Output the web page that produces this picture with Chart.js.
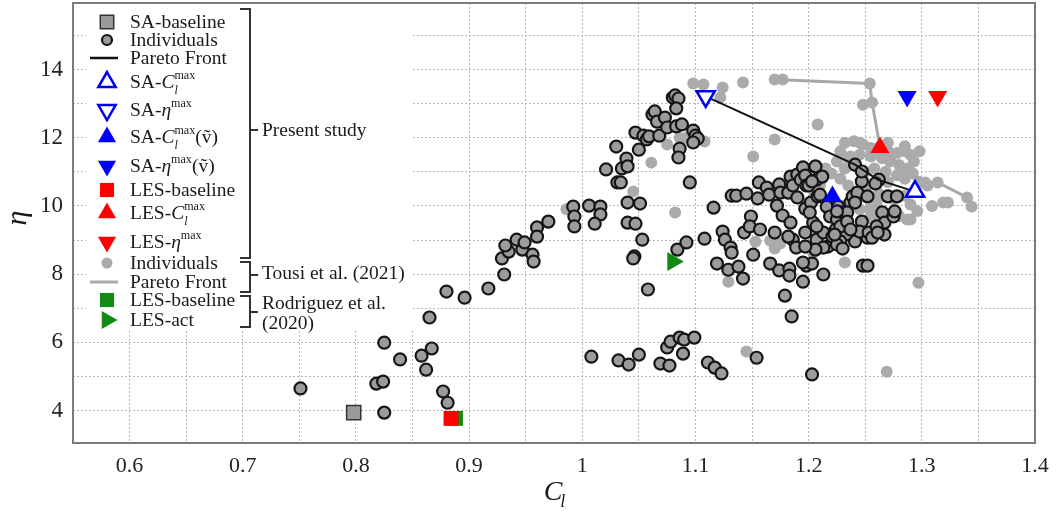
<!DOCTYPE html>
<html>
<head>
<meta charset="utf-8">
<script src="https://cdn.jsdelivr.net/npm/chart.js@4.4.0/dist/chart.umd.min.js"></script>
<style>body{margin:0;background:#fff}</style>
</head>
<body>
<canvas id="chart" width="1058" height="520"></canvas>
<script>
// present study, SA individuals [Cl, eta]
const saIndividuals = [
  [0.751,4.65],[0.825,3.94],[0.818,4.79],[0.824,4.85],[0.825,5.99],[0.839,5.50],[0.858,5.61],[0.867,5.82],
  [0.862,5.20],[0.865,6.73],[0.880,7.49],[0.896,7.31],[0.877,4.56],[0.881,4.23],[0.917,7.58],[0.931,7.99],
  [0.929,8.46],[0.935,8.66],[0.947,8.72],[0.956,8.57],[0.957,8.37],[1.008,5.58],
  [0.932,8.84],[0.942,9.01],[0.949,8.93],[0.960,9.37],[0.960,9.10],[0.970,9.54],
  [0.992,9.98],[0.993,9.69],[0.993,9.40],[1.006,10.01],[1.016,9.98],[1.016,9.75],[1.011,9.48],[1.021,11.07],
  [1.030,11.74],[1.031,10.69],[1.034,10.69],[1.035,11.10],[1.039,11.39],[1.040,11.16],[1.040,10.10],[1.040,9.51],
  [1.047,9.48],[1.047,12.15],[1.050,11.65],[1.051,10.07],[1.053,9.01],[1.046,8.52],[1.054,12.06],[1.057,11.95],
  [1.059,12.04],[1.062,12.68],[1.064,12.77],[1.066,12.47],[1.068,12.06],[1.073,12.59],[1.075,12.30],[1.080,13.18],
  [1.082,13.24],[1.085,13.15],[1.083,12.86],[1.083,12.33],[1.088,12.39],[1.086,11.68],[1.085,11.42],[1.098,12.21],
  [1.100,12.06],[1.102,11.98],[1.098,11.86],[1.095,10.69],[1.116,9.95],[1.084,8.72],[1.092,8.93],[1.108,9.04],
  [1.124,9.25],[1.126,9.01],[1.131,8.78],[1.132,10.30],[1.136,10.30],[1.145,10.36],[1.143,9.22],[1.149,9.69],
  [1.148,9.40],[1.151,8.57],[1.156,10.69],[1.157,9.31],[1.155,10.22],[1.163,10.54],[1.165,10.33],[1.170,9.22],
  [1.172,10.01],[1.174,10.63],[1.175,10.39],[1.177,9.72],[1.184,10.86],[1.182,10.39],[1.184,9.51],[1.186,10.60],
  [1.190,10.25],[1.190,10.92],[1.193,10.77],[1.195,11.13],[1.197,10.89],[1.198,10.60],[1.197,9.92],[1.200,10.60],
  [1.202,10.10],[1.204,9.51],[1.207,10.77],[1.212,10.86],[1.208,10.28],[1.197,9.22],[1.186,9.01],[1.189,8.78],
  [1.207,9.01],[1.213,9.22],[1.216,9.98],[1.219,9.69],[1.226,9.98],[1.225,9.60],[1.224,9.31],[1.230,9.81],
  [1.233,9.43],[1.237,10.10],[1.239,10.28],[1.241,8.96],[1.233,9.16],[1.241,11.21],[1.228,8.96],[1.217,8.81],
  [1.045,8.46],[1.058,7.55],[1.119,8.31],[1.129,8.13],[1.138,8.22],[1.142,7.87],[1.132,8.63],[1.166,8.31],
  [1.174,8.11],[1.179,7.37],[1.182,9.10],[1.183,8.16],[1.183,7.96],[1.185,6.76],[1.195,7.78],[1.198,8.25],
  [1.203,8.31],[1.213,7.99],[1.213,8.78],[1.221,9.10],[1.225,8.87],[1.230,8.75],[1.248,8.25],[1.252,8.25],
  [1.252,9.07],[1.267,9.16],[1.265,9.81],[1.267,9.51],[1.275,9.69],
  [1.032,5.47],[1.041,5.35],[1.050,5.64],[1.069,5.38],[1.077,5.32],[1.075,5.85],[1.078,6.02],[1.086,6.14],
  [1.090,6.08],[1.099,6.14],[1.089,5.67],[1.111,5.41],[1.117,5.26],[1.123,5.09],[1.154,5.55],[1.203,5.06],
  [1.247,10.72],[1.262,10.77],[1.259,10.66],[1.243,10.39],[1.241,10.10],[1.252,10.28],[1.270,10.28],[1.278,10.28],
  [1.247,9.54],[1.245,9.25],[1.253,9.22],[1.256,9.07],[1.234,9.81],[1.225,9.84],[1.201,9.81],[1.207,9.40],
  [1.228,9.40],[1.223,9.16],[1.206,8.72],[1.197,8.81],[1.195,8.34],[1.206,11.16],[1.203,10.72],[1.247,11.01],
  [1.210,10.33],[1.234,9.54],[1.237,9.31],[1.260,9.40],[1.261,9.22],[1.276,9.84]
];
const saPareto = [[1.109,13.21],[1.241,11.21],[1.261,10.77],[1.294,10.42]];
const saBaseline = [[0.798,3.94]];
const saClMax = [[1.294,10.42]];
const saEtaMax = [[1.109,13.21]];
const saClMaxNu = [[1.221,10.28]];
const saEtaMaxNu = [[1.287,13.21]];
const lesBaseline = [[0.884,3.77]];
const lesClMax = [[1.263,11.71]];
const lesEtaMax = [[1.314,13.21]];

// Tousi et al. (2021)
const tousiIndividuals = [
  [1.098,13.59],[1.107,13.56],[1.124,13.47],[1.142,13.62],[1.122,13.18],[1.177,13.71],[1.248,12.97],
  [1.208,12.39],[1.170,11.95],[1.151,11.45],[1.108,11.89],[1.086,12.00],[1.092,12.00],[1.075,11.80],[1.061,11.27],
  [1.045,10.42],[1.082,9.81],[1.084,11.42],[0.986,9.90],
  [1.145,5.73],[1.269,5.14],[1.232,8.34],[1.129,7.78],[1.153,8.95],[1.166,8.98],[1.170,8.75],[1.175,8.90],
  [1.199,8.78],[1.204,8.63],[1.297,7.75],[1.287,9.60],[1.309,10.00],[1.319,10.10],[1.323,10.10],[1.290,10.04],
  [1.200,10.10],[1.205,10.20],[1.230,9.50],[1.234,9.45],[1.254,9.90],[1.257,9.60],
  [1.232,11.85],[1.240,11.90],[1.248,11.80],[1.255,11.70],[1.262,11.62],[1.270,11.60],[1.278,11.55],[1.285,11.60],
  [1.290,11.50],[1.293,11.30],[1.288,11.10],[1.280,11.20],[1.272,11.30],[1.265,11.40],[1.255,11.45],[1.245,11.50],
  [1.235,11.40],[1.228,11.60],[1.225,11.30],[1.232,11.10],[1.240,11.20],[1.250,11.00],[1.258,11.10],[1.268,11.00],
  [1.278,10.90],[1.285,10.80],[1.292,10.95],[1.298,10.70],[1.305,10.60],[1.270,10.70],[1.260,10.60],[1.250,10.50],
  [1.240,10.40],[1.235,10.60],[1.228,10.80],[1.220,10.95],[1.215,11.10],[1.210,10.60],[1.205,10.30],[1.218,10.15],
  [1.230,10.00],[1.245,9.90],[1.260,10.10],[1.275,10.20],[1.285,10.30],[1.296,9.85],[1.280,9.70],[1.290,9.60],
  [1.255,9.75],[1.238,10.25],[1.262,10.35],[1.245,11.85],[1.270,11.85],[1.285,11.75],[1.298,11.60],[1.237,11.45]
];
const tousiPareto = [[1.170,13.71],[1.254,13.59],[1.256,13.03],[1.263,11.74],[1.285,11.07],[1.303,10.69],
  [1.314,10.69],[1.340,10.25],[1.344,9.98]];

// Rodriguez et al. (2020)
const rodBaseline = [[0.888,3.77]];
const rodAct = [[1.080,8.37]];

const xLabelTicks = [0.6, 0.7, 0.8, 0.9, 1, 1.1, 1.2, 1.3, 1.4];
const yLabelTicks = [4, 6, 8, 10, 12, 14];

const pts = a => a.map(p => ({x: p[0], y: p[1]}));
const FONT = '"Liberation Serif", "DejaVu Serif", serif';

function marker(data, style, r, fill, stroke, bw, order, rotation) {
  return {data: pts(data), pointStyle: style, pointRadius: r, rotation: rotation || 0,
    backgroundColor: fill, borderColor: stroke, borderWidth: bw, order: order};
}

// legend rows: y position, marker and rich text
const legendRows = [
  {y: 22, m: ['rect', 9.5, '#9a9a9a', '#333', 1.5, 0], t: [['SA-baseline']]},
  {y: 40, m: ['circle', 5, '#9a9a9a', '#151515', 2.2, 0], t: [['Individuals']]},
  {y: 58, line: ['#111', 2.5], t: [['Pareto Front']]},
  {y: 82, m: ['triangle', 10, '#fff', '#0000ee', 2.5, 0], t: [['SA-'], ['C', 'i'], ['l', 'isub'], ['max', 'sup']]},
  {y: 110, m: ['triangle', 10, '#fff', '#0000ee', 2.5, 180], t: [['SA-'], ['η', 'i'], ['max', 'sup']]},
  {y: 137, m: ['triangle', 10.5, '#0000ff', '#0000ff', 0, 0], t: [['SA-'], ['C', 'i'], ['l', 'isub'], ['max', 'sup'], ['(ṽ)']]},
  {y: 166, m: ['triangle', 10.5, '#0000ff', '#0000ff', 0, 180], t: [['SA-'], ['η', 'i'], ['max', 'sup'], ['(ṽ)']]},
  {y: 190, m: ['rect', 10, '#ff0000', '#ff0000', 0, 0], t: [['LES-baseline']]},
  {y: 213, m: ['triangle', 10.5, '#ff0000', '#ff0000', 0, 0], t: [['LES-'], ['C', 'i'], ['l', 'isub'], ['max', 'sup']]},
  {y: 242, m: ['triangle', 10.5, '#ff0000', '#ff0000', 0, 180], t: [['LES-'], ['η', 'i'], ['max', 'sup']]},
  {y: 263, m: ['circle', 5.5, '#aaaaaa', '#aaaaaa', 0, 0], t: [['Individuals']]},
  {y: 282, line: ['#aaaaaa', 3], t: [['Pareto Front']]},
  {y: 300, m: ['rect', 10, '#138a13', '#138a13', 0, 0], t: [['LES-baseline']]},
  {y: 320, m: ['triangle', 10.5, '#138a13', '#138a13', 0, 90], t: [['LES-act']]}
];

function rich(ctx, parts, x, y, size) {
  const base = y + size * 0.32;
  let cx = x, subStart = null, subEnd = 0;
  parts.forEach(([t, s = '']) => {
    const small = s.includes('sub') || s.includes('sup');
    const fs = small ? size * 0.62 : size;
    ctx.font = (s.startsWith('i') ? 'italic ' : '') + fs + 'px ' + FONT;
    let dy = 0;
    if (s.includes('sub')) { dy = size * 0.28; subStart = cx; }
    else if (s.includes('sup')) { dy = -size * 0.45; if (subStart !== null) { cx = subStart; } }
    ctx.fillText(t, cx, base + dy);
    cx += ctx.measureText(t).width;
    if (s.includes('sub')) subEnd = cx;
    else if (s.includes('sup') && subStart !== null) { cx = Math.max(cx, subEnd); subStart = null; }
  });
}

function bracket(ctx, x, y0, y1, ym) {
  ctx.beginPath();
  ctx.moveTo(x - 10, y0); ctx.lineTo(x, y0); ctx.lineTo(x, y1); ctx.lineTo(x - 10, y1);
  ctx.moveTo(x, ym); ctx.lineTo(x + 8, ym);
  ctx.stroke();
}

const decor = {
  id: 'decor',
  afterDraw(chart) {
    const {ctx, chartArea: a} = chart;
    ctx.save();
    ctx.fillStyle = '#fff';
    ctx.fillRect(86, a.top + 1, 327, 327);
    ctx.strokeStyle = '#7a7a7a';
    ctx.lineWidth = 2;
    ctx.strokeRect(a.left, a.top, a.right - a.left, a.bottom - a.top);

    ctx.textBaseline = 'alphabetic';
    ctx.textAlign = 'left';
    legendRows.forEach(r => {
      if (r.m) {
        const [style, rad, fill, stroke, bw, rot] = r.m;
        ctx.fillStyle = fill; ctx.strokeStyle = stroke; ctx.lineWidth = bw;
        Chart.helpers.drawPoint(ctx, {pointStyle: style, radius: rad, rotation: rot, borderWidth: bw}, 107, r.y);
      } else {
        ctx.strokeStyle = r.line[0]; ctx.lineWidth = r.line[1];
        ctx.beginPath(); ctx.moveTo(90, r.y); ctx.lineTo(118, r.y); ctx.stroke();
      }
      ctx.fillStyle = '#1a1a1a';
      rich(ctx, r.t, 130, r.y, 19.5);
    });

    ctx.strokeStyle = '#333'; ctx.lineWidth = 2;
    bracket(ctx, 250, 9, 258, 130);
    bracket(ctx, 250, 262, 292, 275);
    bracket(ctx, 250, 296, 327, 312);
    ctx.fillStyle = '#1a1a1a';
    rich(ctx, [['Present study']], 262, 130, 19.5);
    rich(ctx, [['Tousi et al. (2021)']], 262, 273, 19.5);
    rich(ctx, [['Rodriguez et al.']], 262, 303, 19.5);
    rich(ctx, [['(2020)']], 262, 323, 19.5);

    // axis titles
    ctx.font = 'italic 28px ' + FONT;
    const wC = ctx.measureText('C').width;
    ctx.fillText('C', 553 - wC / 2, 500);
    ctx.font = 'italic 18px ' + FONT;
    ctx.fillText('l', 553 + wC / 2 - 2, 507);
    ctx.translate(26, 218);
    ctx.rotate(-Math.PI / 2);
    ctx.textAlign = 'center';
    ctx.font = 'italic 30px ' + FONT;
    ctx.fillText('η', 0, 0);
    ctx.restore();
  }
};

new Chart(document.getElementById('chart'), {
  type: 'scatter',
  data: {
    datasets: [
      marker(tousiIndividuals, 'circle', 6, '#ababab', '#ababab', 0, 20),
      {data: pts(tousiPareto), showLine: true, borderColor: '#a8a8a8', borderWidth: 3,
        pointRadius: 6, pointBackgroundColor: '#ababab', pointBorderWidth: 0, order: 19},
      marker(saIndividuals, 'circle', 6, '#9b9b9b', '#151515', 2.2, 18),
      {data: pts(saPareto), showLine: true, borderColor: '#111', borderWidth: 2, pointRadius: 0, order: 17},
      marker(saBaseline, 'rect', 10, '#9a9a9a', '#333', 1.5, 10),
      marker(rodBaseline, 'rect', 10.5, '#138a13', '#138a13', 0, 9),
      marker(lesBaseline, 'rect', 10.5, '#ff0000', '#ff0000', 0, 8),
      marker(rodAct, 'triangle', 11, '#138a13', '#138a13', 0, 7, 90),
      marker(saClMax, 'triangle', 10.5, '#fff', '#0000ee', 2.5, 6),
      marker(saEtaMax, 'triangle', 10.5, '#fff', '#0000ee', 2.5, 5, 180),
      marker(saClMaxNu, 'triangle', 11, '#0000ff', '#0000ff', 0, 4),
      marker(saEtaMaxNu, 'triangle', 11, '#0000ff', '#0000ff', 0, 3, 180),
      marker(lesClMax, 'triangle', 11, '#ff0000', '#ff0000', 0, 2),
      marker(lesEtaMax, 'triangle', 11, '#ff0000', '#ff0000', 0, 1, 180)
    ]
  },
  options: {
    responsive: false,
    animation: false,
    devicePixelRatio: 1,
    layout: {autoPadding: false, padding: {left: 0, top: 3, right: 23, bottom: 0}},
    plugins: {legend: {display: false}, tooltip: {enabled: false}},
    scales: {
      x: {
        type: 'linear', min: 0.55, max: 1.4,
        afterFit: s => { s.height = 77; s.paddingLeft = 0; s.paddingRight = 0; },
        grid: {color: '#b8b8b8', lineWidth: 1, drawTicks: false},
        border: {display: false, dash: [2, 2]},
        ticks: {
          stepSize: 0.05, includeBounds: false, padding: 10, color: '#222', autoSkip: false, maxRotation: 0,
          font: {family: FONT, size: 22},
          callback: v => {
            const hit = xLabelTicks.find(t => Math.abs(t - v) < 1e-6);
            return hit === undefined ? '' : String(hit);
          }
        }
      },
      y: {
        type: 'linear', min: 3.05, max: 15.95,
        afterFit: s => { s.width = 73; s.paddingTop = 0; s.paddingBottom = 0; },
        grid: {color: '#b8b8b8', lineWidth: 1, drawTicks: false},
        border: {display: false, dash: [2, 2]},
        ticks: {
          stepSize: 1, includeBounds: false, padding: 10, color: '#222', autoSkip: false,
          font: {family: FONT, size: 23},
          callback: v => {
            const hit = yLabelTicks.find(t => Math.abs(t - v) < 1e-6);
            return hit === undefined ? '' : String(hit);
          }
        }
      }
    }
  },
  plugins: [decor]
});
</script>
</body>
</html>
